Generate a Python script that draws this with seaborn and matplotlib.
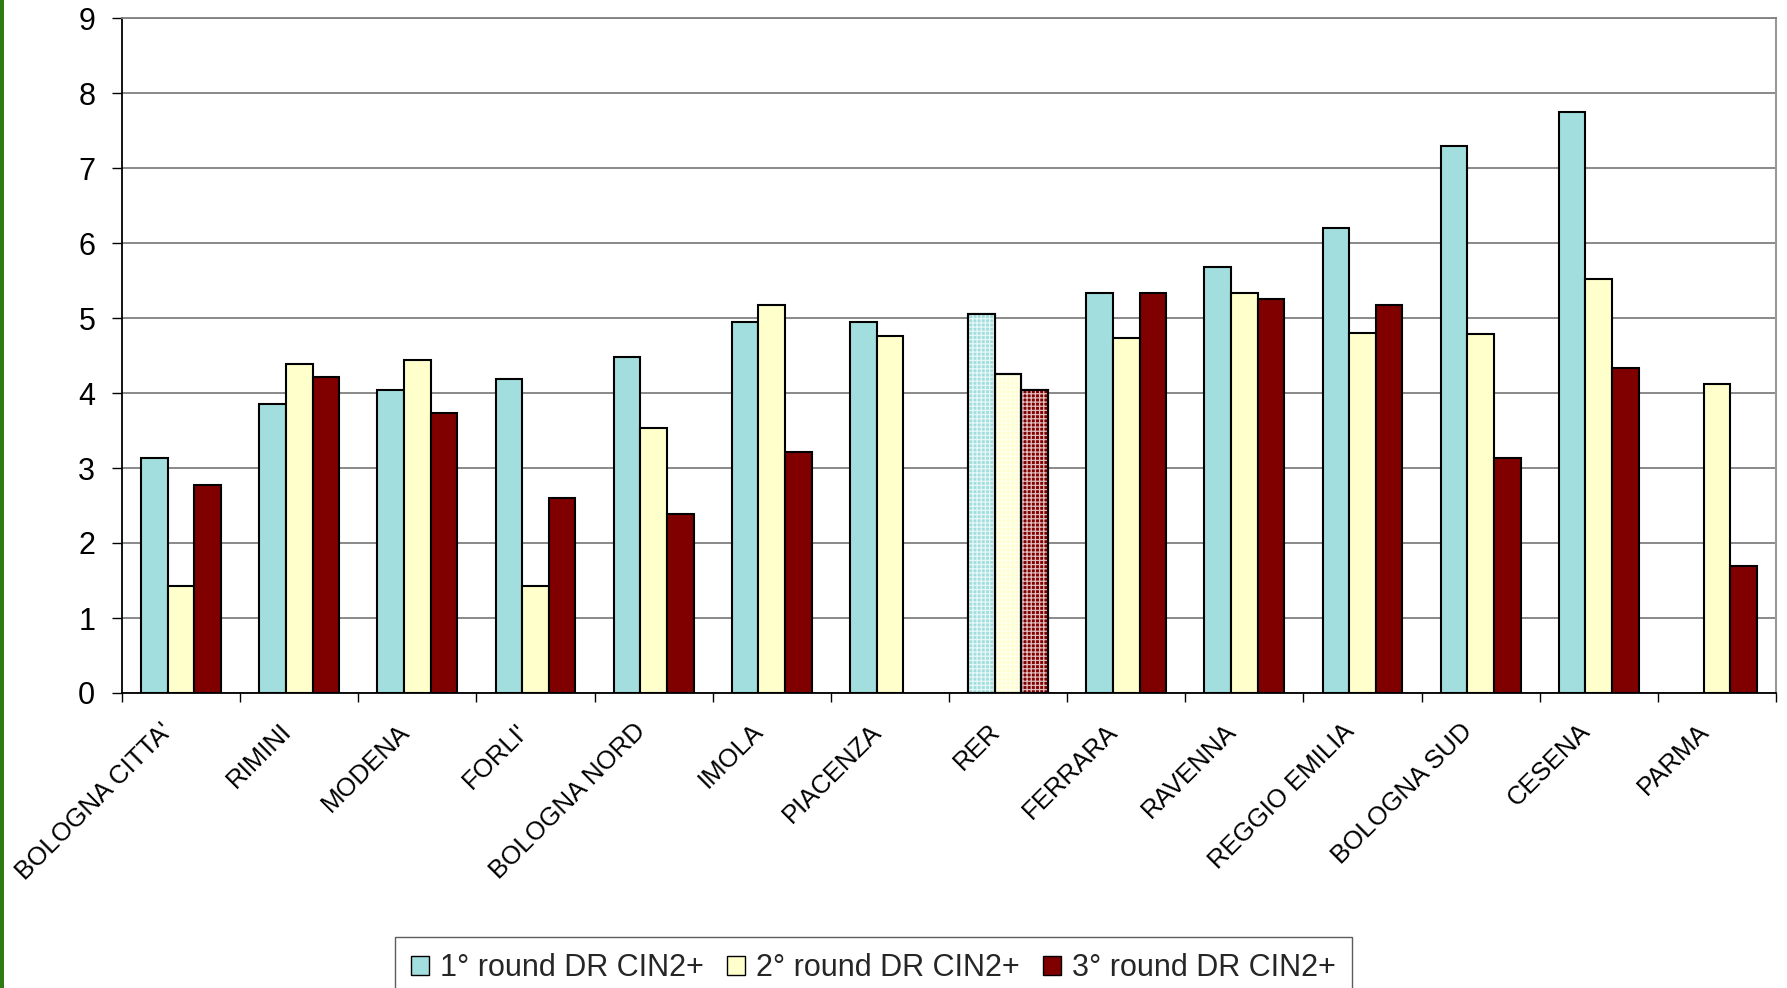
import numpy as np
import pandas as pd
import matplotlib
matplotlib.use("Agg")
import matplotlib.pyplot as plt
import matplotlib.transforms as mtransforms
from matplotlib.patches import Patch, Rectangle
from matplotlib import font_manager
import seaborn as sns

categories = ["BOLOGNA CITTA'", "RIMINI", "MODENA", "FORLI'", "BOLOGNA NORD", "IMOLA",
              "PIACENZA", "RER", "FERRARA", "RAVENNA", "REGGIO EMILIA", "BOLOGNA SUD",
              "CESENA", "PARMA"]
round1 = [3.13, 3.86, 4.04, 4.19, 4.48, 4.94, 4.94, 5.05, 5.33, 5.68, 6.20, 7.29, 7.75, np.nan]
round2 = [1.43, 4.39, 4.44, 1.43, 3.53, 5.18, 4.76, 4.26, 4.73, 5.33, 4.80, 4.79, 5.52, 4.12]
round3 = [2.78, 4.22, 3.74, 2.60, 2.39, 3.21, np.nan, 4.04, 5.33, 5.26, 5.18, 3.13, 4.33, 1.70]
series_names = ["1° round DR CIN2+", "2° round DR CIN2+", "3° round DR CIN2+"]
highlight = "RER"
yticks = list(range(0, 10))

colors = ["#A3DEDE", "#FFFFCC", "#800000"]

sns.set_theme(style="white")
plt.rcParams["font.family"] = ["Liberation Sans", "DejaVu Sans"]
plt.rcParams["hatch.linewidth"] = 0.9

names = {f.name for f in font_manager.fontManager.ttflist}
if "Liberation Sans Narrow" in names:
    leg_family, leg_size = "Liberation Sans Narrow", 25
else:
    leg_family, leg_size = "Liberation Sans", 22

rows = []
for name, vals in zip(series_names, [round1, round2, round3]):
    for c, v in zip(categories, vals):
        rows.append({"region": c, "round": name, "value": v})
df = pd.DataFrame(rows)

W, H = 1787, 988
fig = plt.figure(figsize=(W / 100, H / 100), dpi=100)
ax = fig.add_axes([122 / W, 1 - 693 / H, (1776 - 122) / W, (693 - 18) / H])

sns.barplot(data=df, x="region", y="value", hue="round", order=categories,
            hue_order=series_names, palette=colors, width=0.675, gap=0,
            edgecolor="black", linewidth=1.5, errorbar=None, ax=ax, legend=False,
            saturation=1)

# hatch the highlighted group
hi = categories.index(highlight)
for p in list(ax.patches):
    if p.get_height() > 0 and abs(p.get_x() + p.get_width() / 2 - hi) < 0.5:
        ax.add_patch(Rectangle((p.get_x(), p.get_y()), p.get_width(), p.get_height(),
                               fill=False, hatch="++++", edgecolor=(1, 1, 1, 0.75),
                               linewidth=0, zorder=p.get_zorder() + 0.1))
        ax.add_patch(Rectangle((p.get_x(), p.get_y()), p.get_width(), p.get_height(),
                               fill=False, edgecolor="black", linewidth=1.5,
                               zorder=p.get_zorder() + 0.2))

ax.set_ylim(0, 9)
ax.set_xlim(-0.5, len(categories) - 0.5)
ax.set_yticks(yticks)
ax.set_yticklabels([str(t) for t in yticks])
ax.yaxis.grid(True, color="#808080", linewidth=1.3)
ax.set_axisbelow(True)
ax.tick_params(axis="y", direction="out", length=7.2, width=1.0, color="black",
               pad=12, left=True, labelsize=22, labelcolor="black")

ax.set_xticks(range(len(categories)))
ax.set_xticklabels(categories, rotation=45, ha="right", va="center",
                   rotation_mode="anchor")
ax.tick_params(axis="x", which="major", length=0, pad=25, labelsize=18.5,
               labelcolor="black")
shift = mtransforms.ScaledTranslation(-12 / 100, 0, fig.dpi_scale_trans)
for lab in ax.get_xticklabels():
    lab.set_transform(lab.get_transform() + shift)
ax.set_xticks(np.arange(-0.5, len(categories), 1.0), minor=True)
ax.tick_params(axis="x", which="minor", direction="out", length=6.5, width=1.0,
               color="black", bottom=True)
ax.set_xlabel("")
ax.set_ylabel("")

for s in ["left", "bottom"]:
    ax.spines[s].set_color("black")
    ax.spines[s].set_linewidth(1.3)
ax.spines["right"].set_color("#999999")
ax.spines["right"].set_linewidth(1.5)
ax.spines["top"].set_color("#808080")
ax.spines["top"].set_linewidth(1.3)

handles = [Patch(facecolor=c, edgecolor="black", linewidth=1.0) for c in colors]
fs_px = leg_size * 100 / 72
leg = fig.legend(handles, series_names, ncol=3, loc="upper left",
                 bbox_to_anchor=(395 / W, 1 - 937 / H), borderaxespad=0,
                 prop={"family": leg_family, "size": leg_size},
                 handlelength=18 / fs_px, handleheight=18 / fs_px,
                 handletextpad=11 / fs_px, columnspacing=23 / fs_px,
                 borderpad=16 / fs_px, frameon=True, fancybox=False)
leg.get_frame().set_edgecolor("#333333")
leg.get_frame().set_linewidth(1.0)

fig.patches.append(Rectangle((0, 0), 4 / W, 1, transform=fig.transFigure,
                             facecolor="#2E7A14", edgecolor="none", zorder=10))

fig.savefig("out.png", dpi=100, facecolor="white")
